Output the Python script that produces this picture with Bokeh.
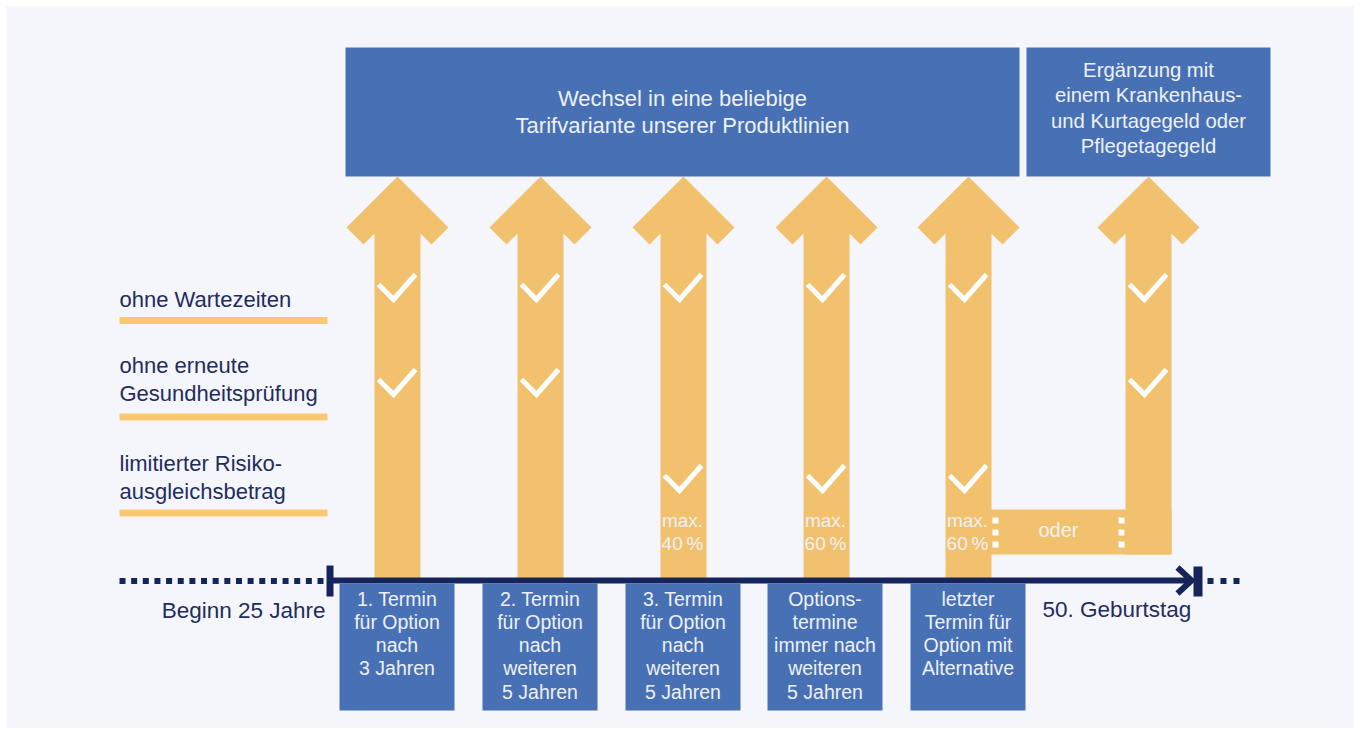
import numpy as np
from bokeh.plotting import figure
from bokeh.models import Range1d
from bokeh.core.properties import value
from bokeh.embed import file_html
from bokeh.resources import INLINE

# ---------------- data ----------------
BG = "#F5F6FB"
BLUE = "#4870B4"
ORANGE = "#F2C16E"
BAR_ORANGE = "#FCC86F"
NAVY = "#15245A"
NAVY_TXT = "#1F2D5E"
BOX_TXT = "#EEF1F8"
FONT = value("Liberation Sans")
DY = -7.5  # baseline correction for text rendering

# top boxes (x0, x1, y0, y1) and their texts
top_box_x0 = [345, 1026]
top_box_x1 = [1019, 1270]
top_box_y0 = [47, 47]
top_box_y1 = [176, 176]
top_box_text = [
    "Wechsel in eine beliebige\nTarifvariante unserer Produktlinien",
    "Ergänzung mit\neinem Krankenhaus-\nund Kurtagegeld oder\nPflegetagegeld",
]
top_box_first_baseline = [105, 77]
top_box_line_step = [27.5, 25.3]
top_box_font_size = ["22px", "20.3px"]

# arrows
arrow_x = [397, 540, 683, 826, 968, 1148]
arrow_bottom = [580, 580, 580, 580, 580, 554]
# which criteria rows are ticked per arrow (0: Wartezeiten, 1: Gesundheitsprüfung, 2: Risikoausgleich)
arrow_checks = [[0, 1], [0, 1], [0, 2], [0, 2], [0, 2], [0, 1]]
check_row_y = [285, 380, 476]

# left criteria labels
criteria_text = [
    "ohne Wartezeiten",
    "ohne erneute\nGesundheitsprüfung",
    "limitierter Risiko-\nausgleichsbetrag",
]
criteria_first_baseline = [306, 372, 470]
criteria_bar_y = [320, 416.5, 512.5]

# max. percentage notes
max_arrow_idx = [2, 3, 4]
max_text = ["max.\n40\u2009%", "max.\n60\u2009%", "max.\n60\u2009%"]

# bottom boxes
bottom_box_text = [
    "1. Termin\nfür Option\nnach\n3 Jahren",
    "2. Termin\nfür Option\nnach\nweiteren\n5 Jahren",
    "3. Termin\nfür Option\nnach\nweiteren\n5 Jahren",
    "Options-\ntermine\nimmer nach\nweiteren\n5 Jahren",
    "letzter\nTermin für\nOption mit\nAlternative",
]
bottom_box_x = [396.5, 539.5, 682.5, 824.5, 967.5]

timeline_start_label = "Beginn 25 Jahre"
timeline_end_label = "50. Geburtstag"
alt_label = "oder"

# ---------------- figure ----------------
p = figure(width=1354, height=728, x_range=Range1d(0, 1354), y_range=Range1d(728, 0),
           output_backend="svg", toolbar_location=None, min_border=0,
           x_axis_type=None, y_axis_type=None,
           background_fill_color="white", border_fill_color="white", outline_line_color=None)
p.grid.visible = False

# panel background
p.quad(left=[6], right=[1364], top=[6], bottom=[742], fill_color=BG, line_color=None)

# top boxes
p.quad(left=top_box_x0, right=top_box_x1, top=top_box_y0, bottom=top_box_y1,
       fill_color=BLUE, line_color=None)
for i, txt in enumerate(top_box_text):
    cx = (top_box_x0[i] + top_box_x1[i]) / 2
    lines = txt.split("\n")
    p.text(x=[cx] * len(lines),
           y=[top_box_first_baseline[i] + j * top_box_line_step[i] + DY for j in range(len(lines))],
           text=lines, text_align="center", text_baseline="alphabetic",
           text_font=FONT, text_font_size=top_box_font_size[i], text_color=BOX_TXT)

# arrows
xs, ys = [], []
for cx, bot in zip(arrow_x, arrow_bottom):
    xs.append([cx - 23, cx - 23, cx - 34, cx - 51, cx, cx + 51, cx + 34, cx + 23, cx + 23])
    ys.append([bot, 233, 244, 227, 176, 227, 244, 233, bot])
p.patches(xs, ys, fill_color=ORANGE, line_color=None)
# connector between last two arrows
p.quad(left=[arrow_x[4] + 22], right=[arrow_x[5] + 23], top=[509], bottom=[554],
       fill_color=ORANGE, line_color=None)

# white separators (dotted)
sep_x = [arrow_x[4] + 27, arrow_x[5] - 27]
sq_x, sq_y = [], []
for sx in sep_x:
    for sy in [520, 532, 544]:
        sq_x.append(sx)
        sq_y.append(sy)
p.rect(x=sq_x, y=sq_y, width=6, height=6, fill_color="white", line_color=None)

# check marks
cxs, cys = [], []
for cx, rows in zip(arrow_x, arrow_checks):
    for r in rows:
        y0 = check_row_y[r]
        cxs.append([cx - 19, cx - 4, cx + 18])
        cys.append([y0 - 1, y0 + 14, y0 - 11])
p.multi_line(cxs, cys, line_color="white", line_width=5, line_join="miter", line_cap="butt")

# criteria labels
lx, ly, lt = [], [], []
for i, txt in enumerate(criteria_text):
    for j, line in enumerate(txt.split("\n")):
        lx.append(119)
        ly.append(criteria_first_baseline[i] + j * 28 + DY)
        lt.append(line)
p.text(x=lx, y=ly, text=lt, text_align="left", text_baseline="alphabetic",
       text_font=FONT, text_font_size="22px", text_color=NAVY_TXT)
p.quad(left=[119] * 3, right=[327] * 3, top=[y - 3.5 for y in criteria_bar_y],
       bottom=[y + 3.5 for y in criteria_bar_y], fill_color=BAR_ORANGE, line_color=None)

# max notes
mx, my, mt = [], [], []
for idx, txt in zip(max_arrow_idx, max_text):
    for j, line in enumerate(txt.split("\n")):
        mx.append(arrow_x[idx] - 1)
        my.append(527 + j * 23 + DY)
        mt.append(line)
p.text(x=mx, y=my, text=mt, text_align="center", text_baseline="alphabetic",
       text_font=FONT, text_font_size="19px", text_color=BOX_TXT)

# oder
p.text(x=[1058], y=[537 + DY], text=[alt_label], text_align="center", text_baseline="alphabetic",
       text_font=FONT, text_font_size="20px", text_color=BOX_TXT)

# timeline
p.line(x=[329, 1190], y=[580, 580], line_color=NAVY, line_width=6)
p.line(x=[1177, 1191, 1177], y=[567, 580, 593], line_color=NAVY, line_width=6,
       line_join="miter")
p.quad(left=[326, 1193], right=[333, 1202], top=[565, 566], bottom=[596, 596],
       fill_color=NAVY, line_color=None)
dot_x = list(np.linspace(122, 320, 18)) + [1210, 1223, 1236]
p.rect(x=dot_x, y=[580.5] * len(dot_x), width=6, height=6, fill_color=NAVY, line_color=None)

p.text(x=[325, 1042], y=[617 + DY, 616 + DY], text=[timeline_start_label, timeline_end_label],
       text_align=["right", "left"], text_baseline="alphabetic",
       text_font=FONT, text_font_size="22.5px", text_color=NAVY_TXT)

# bottom boxes
p.quad(left=[x - 57.5 for x in bottom_box_x], right=[x + 57.5 for x in bottom_box_x],
       top=[583] * 5, bottom=[710] * 5, fill_color=BLUE, line_color=None)
bx, by, bt = [], [], []
for cx, txt in zip(bottom_box_x, bottom_box_text):
    for j, line in enumerate(txt.split("\n")):
        bx.append(cx)
        by.append(605.5 + j * 23.3 + DY)
        bt.append(line)
p.text(x=bx, y=by, text=bt, text_align="center", text_baseline="alphabetic",
       text_font=FONT, text_font_size="19.5px", text_color=BOX_TXT)

open("out.html", "w").write(file_html(p, INLINE))
